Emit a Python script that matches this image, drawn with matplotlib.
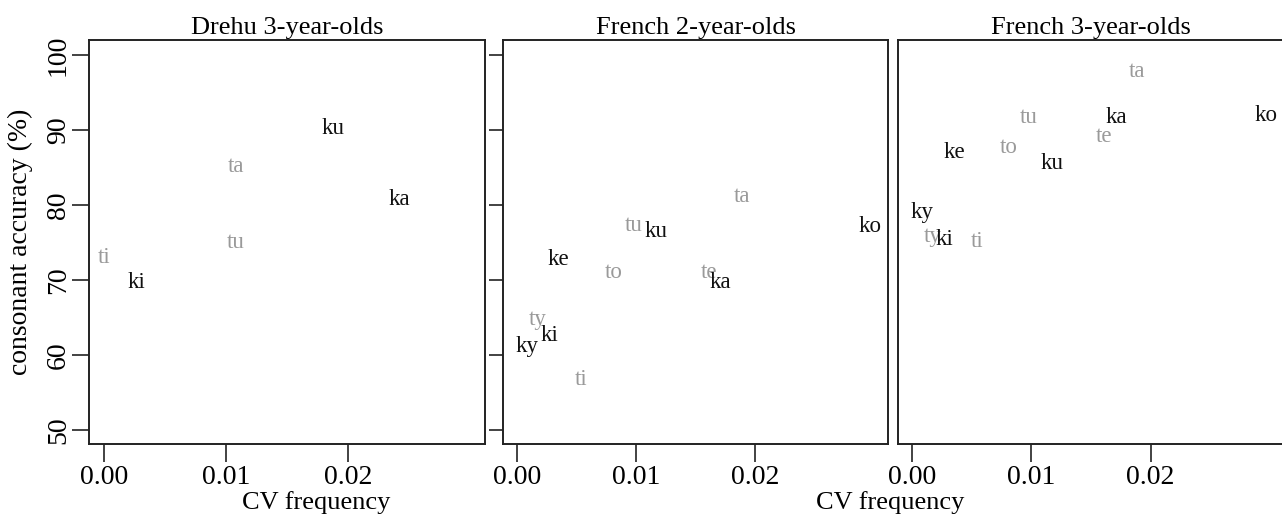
import matplotlib
matplotlib.use("Agg")
import matplotlib.pyplot as plt
from matplotlib.transforms import offset_copy

plt.rcParams['font.family'] = ['Liberation Serif', 'DejaVu Serif']

# Drehu 3-year-olds
drehu_syll = ['ti', 'ta', 'tu', 'ki', 'ka', 'ku']
drehu_freq = [0.0000, 0.0108, 0.0108, 0.0027, 0.0242, 0.0188]
drehu_acc = [73.5, 85.6, 75.4, 70.1, 81.2, 90.7]

# French (same CV frequencies for both age groups)
fr_syll = ['ta', 'tu', 'to', 'te', 'ty', 'ti', 'ko', 'ku', 'ke', 'ka', 'ki', 'ky']
fr_freq = [0.0189, 0.0098, 0.0081, 0.0161, 0.0017, 0.0054,
           0.0297, 0.0117, 0.0035, 0.0171, 0.0027, 0.0008]
fr2_acc = [81.6, 77.7, 71.4, 71.4, 65.2, 57.2,
           77.6, 76.9, 73.2, 70.1, 63.1, 61.6]
fr3_acc = [98.3, 92.1, 88.1, 89.6, 76.2, 75.6,
           92.4, 86.0, 87.4, 92.1, 75.9, 79.4]

titles = ['Drehu 3-year-olds', 'French 2-year-olds', 'French 3-year-olds']
xticks = [0.00, 0.01, 0.02]
yticks = [50, 60, 70, 80, 90, 100]

W, H = 1282, 517
fig = plt.figure(figsize=(W / 100, H / 100), dpi=100)

# axes boxes in pixels: left, right
boxes = [(89, 485), (503, 888), (898, 1284)]
top, bottom = 40, 444

panels = [(drehu_syll, drehu_freq, drehu_acc),
          (fr_syll, fr_freq, fr2_acc),
          (fr_syll, fr_freq, fr3_acc)]

for i, ((l, r), (syll, fx, acc)) in enumerate(zip(boxes, panels)):
    ax = fig.add_axes([l / W, (H - bottom) / H, (r - l) / W, (bottom - top) / H])
    ax.set_xlim(-0.0012, 0.0312)
    ax.set_ylim(48.1, 102)
    # nudge labels down a little so the glyphs sit centred like R's text()
    tr = offset_copy(ax.transData, fig=fig, x=0, y=-2.5, units='points')
    for s, x, y in zip(syll, fx, acc):
        col = '#9a9a9a' if s.startswith('t') else '#111111'
        ax.text(x, y, s, ha='center', va='center', fontsize=16.5, color=col,
                transform=tr)
    for sp in ax.spines.values():
        sp.set_linewidth(1.4)
        sp.set_color('#222222')
    ax.set_title(titles[i], fontsize=19, pad=4)
    ax.set_xticks(xticks)
    ax.set_xticklabels(['%.2f' % t for t in xticks])
    ax.tick_params(axis='x', length=13, width=1.2, labelsize=20, pad=2,
                   color='#222222')
    ax.set_yticks(yticks)
    if i == 0:
        ax.set_yticklabels([str(t) for t in yticks], rotation=90, va='center')
        ax.tick_params(axis='y', length=12, width=1.2, labelsize=20, pad=1,
                       color='#222222')
        ax.set_ylabel('consonant accuracy (%)', fontsize=20)
        ax.yaxis.set_label_coords(-0.174, 0.5)
        ax.yaxis.label.set_va('center')
    elif i == 1:
        ax.tick_params(axis='y', length=10, width=1.2, labelleft=False,
                       color='#222222')
    else:
        ax.tick_params(axis='y', length=0, labelleft=False)
    if i < 2:
        ax.set_xlabel('CV frequency', fontsize=19)
        ax.xaxis.label.set_va('center')
        cx = 316 if i == 0 else 890
        ax.xaxis.set_label_coords((cx - l) / (r - l), (bottom - 503) / (bottom - top))

fig.savefig('out.png', dpi=100)
